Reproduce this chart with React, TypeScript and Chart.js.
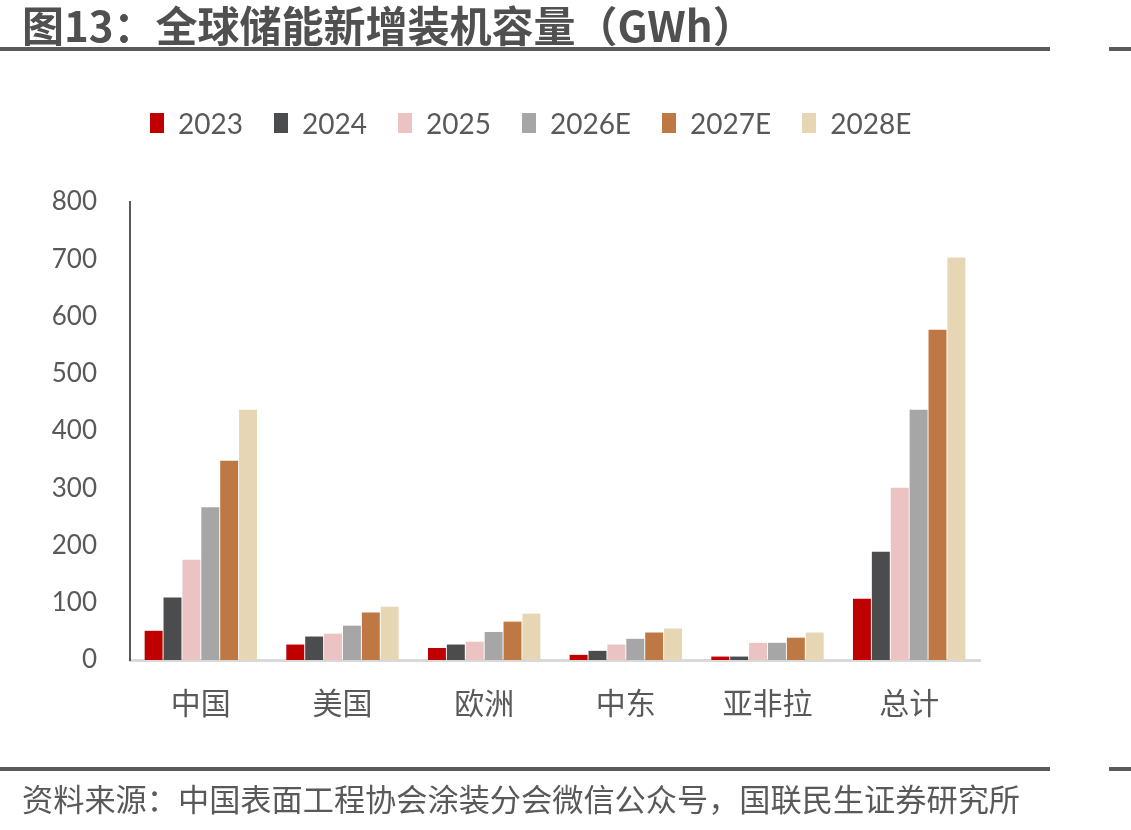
import React, { useEffect, useRef } from "react";
import { Chart, registerables } from "chart.js";

Chart.register(...registerables);

// Regions and yearly new energy-storage installations (GWh)
const categories = ["中国", "美国", "欧洲", "中东", "亚非拉", "总计"];
const seriesLabels = ["2023", "2024", "2025", "2026E", "2027E", "2028E"];
const values2023 = [51, 27, 21, 9, 6, 107];
const values2024 = [109, 41, 27, 16, 6, 189];
const values2025 = [175, 46, 32, 27, 30, 301];
const values2026E = [267, 60, 49, 37, 30, 437];
const values2027E = [348, 83, 67, 48, 39, 577];
const values2028E = [437, 93, 81, 55, 48, 703];
const yTicks = [0, 100, 200, 300, 400, 500, 600, 700, 800];

const seriesValues = [values2023, values2024, values2025, values2026E, values2027E, values2028E];
const seriesColors = ["#C00000", "#4B4C4E", "#EBC3C3", "#A6A6A6", "#BE7844", "#E7D6B3"];

const TEXT = "#595959";

export default function App() {
  const canvasRef = useRef<HTMLCanvasElement | null>(null);

  useEffect(() => {
    document.body.style.margin = "0";
    const canvas = canvasRef.current;
    if (!canvas) return;
    const chart = new Chart(canvas, {
      type: "bar",
      data: {
        labels: categories,
        datasets: seriesLabels.map((label, i) => ({
          label,
          data: seriesValues[i],
          backgroundColor: seriesColors[i],
          borderWidth: 0,
          categoryPercentage: 0.8,
          barPercentage: 0.95,
        })),
      },
      options: {
        responsive: false,
        animation: false,
        layout: { padding: { top: 202, left: 30, right: 151, bottom: 100 } },
        plugins: {
          legend: { display: false },
          tooltip: { enabled: false },
        },
        scales: {
          x: {
            grid: { display: false, drawTicks: false },
            border: { display: true, color: "#D9D9D9", width: 3 },
            ticks: {
              color: TEXT,
              padding: 25,
              font: { family: "'Noto Sans CJK SC', sans-serif", size: 30 },
            },
            afterFit: (scale: any) => {
              scale.height = 70;
            },
          },
          y: {
            min: 0,
            max: 800,
            afterBuildTicks: (scale: any) => {
              scale.ticks = yTicks.map((v) => ({ value: v }));
            },
            grid: { display: false, drawTicks: false },
            border: { display: true, color: "#595959", width: 2 },
            ticks: {
              color: TEXT,
              padding: 33,
              font: { family: "Lato, sans-serif", size: 26 },
            },
            afterFit: (scale: any) => {
              scale.width = 100;
            },
          },
        },
      },
    });
    return () => chart.destroy();
  }, []);

  const rule = (top: number) => (
    <>
      <div style={{ position: "absolute", left: 0, top, width: 1050, height: 4, background: "#595959" }} />
      <div style={{ position: "absolute", left: 1109, top, width: 22, height: 4, background: "#595959" }} />
    </>
  );

  return (
    <div style={{ position: "relative", width: 1131, height: 830, background: "#fff", overflow: "hidden" }}>
      <canvas ref={canvasRef} width={1131} height={830} style={{ position: "absolute", left: 0, top: 0 }} />
      <div
        style={{
          position: "absolute",
          left: 22,
          top: 0,
          height: 48,
          lineHeight: "48px",
          fontFamily: "'Noto Sans CJK SC', sans-serif",
          fontWeight: 700,
          fontSize: 42,
          color: "#505050",
          whiteSpace: "nowrap",
        }}
      >
        图13：全球储能新增装机容量（GWh）
      </div>
      {rule(47)}
      <div
        style={{
          position: "absolute",
          left: 150,
          top: 103,
          height: 40,
          display: "flex",
          alignItems: "center",
          fontFamily: "Lato, sans-serif",
          fontSize: 28,
          color: TEXT,
          whiteSpace: "nowrap",
        }}
      >
        {seriesLabels.map((label, i) => (
          <div key={label} style={{ display: "flex", alignItems: "center", marginRight: 31 }}>
            <span style={{ display: "inline-block", width: 14, height: 20, background: seriesColors[i], marginRight: 14 }} />
            <span>{label}</span>
          </div>
        ))}
      </div>
      {rule(767)}
      <div
        style={{
          position: "absolute",
          left: 22,
          top: 778,
          height: 40,
          lineHeight: "40px",
          fontFamily: "'Noto Sans CJK SC', sans-serif",
          fontSize: 31.2,
          color: TEXT,
          whiteSpace: "nowrap",
        }}
      >
        资料来源：中国表面工程协会涂装分会微信公众号，国联民生证券研究所
      </div>
    </div>
  );
}
